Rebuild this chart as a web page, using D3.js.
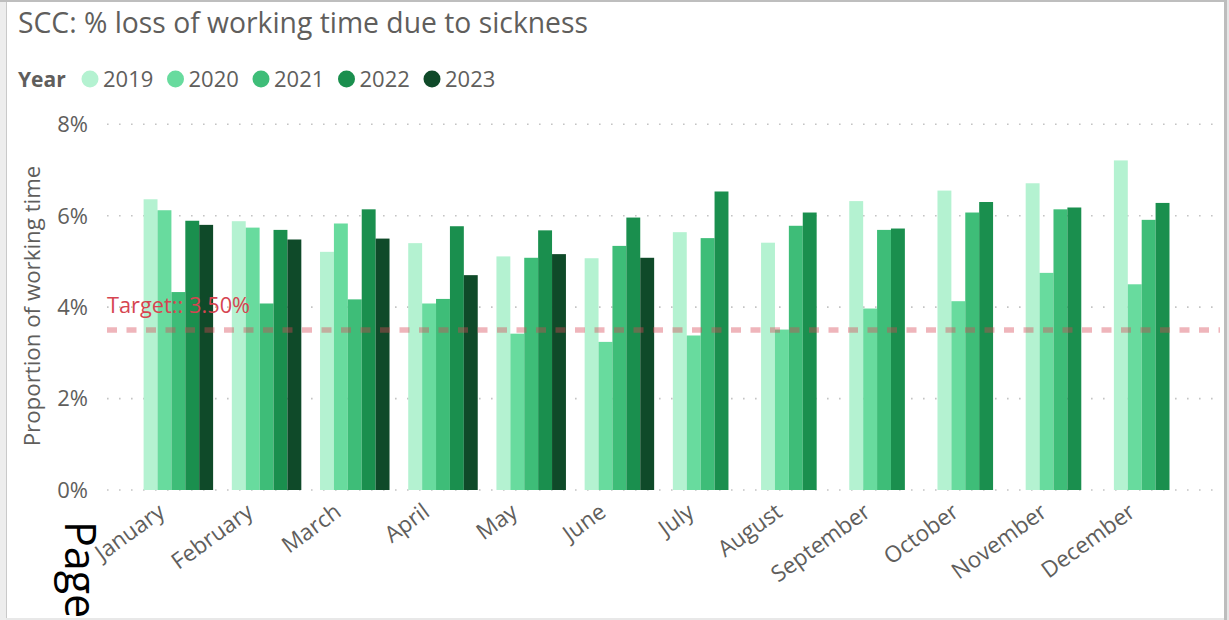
<!DOCTYPE html>
<html>
<head>
<meta charset="utf-8">
<script src="https://cdn.jsdelivr.net/npm/d3@7"></script>
<style>
  html, body { margin: 0; padding: 0; background: #fff; }
  svg { display: block; }
  text { font-family: "Open Sans", "Noto Sans", sans-serif; }
</style>
</head>
<body>
<svg id="chart" width="1229" height="620"></svg>
<script>
const months = ["January","February","March","April","May","June","July","August","September","October","November","December"];
const years = ["2019","2020","2021","2022","2023"];
const colors = ["#B4F2D1","#68DB9E","#3EBD78","#1A8F4E","#0F4A29"];
const v2019 = [6.36,5.88,5.21,5.40,5.11,5.07,5.64,5.41,6.32,6.55,6.71,7.21];
const v2020 = [6.12,5.74,5.83,4.08,3.42,3.24,3.38,3.51,3.97,4.13,4.75,4.50];
const v2021 = [4.33,4.08,4.17,4.18,5.08,5.34,5.51,5.78,5.69,6.07,6.14,5.91];
const v2022 = [5.89,5.69,6.14,5.77,5.68,5.96,6.53,6.07,5.72,6.30,6.18,6.28];
const v2023 = [5.80,5.48,5.50,4.70,5.16,5.08,null,null,null,null,null,null];
const yTicks = [0,2,4,6,8];
const target = 3.5;
const titleText = "SCC: % loss of working time due to sickness";
const yTitle = "Proportion of working time";
const targetLabel = "Target:: 3.50%";

const series = [v2019, v2020, v2021, v2022, v2023];
const svg = d3.select("#chart");
const gray = "#605E5C";

// frame
svg.append("rect").attr("x",0).attr("y",0).attr("width",6).attr("height",620).attr("fill","#EDEDED");
svg.append("rect").attr("x",6).attr("y",0).attr("width",1).attr("height",620).attr("fill","#C9C9C9");
svg.append("rect").attr("x",0).attr("y",0).attr("width",1229).attr("height",2).attr("fill","#BEBEBE");
svg.append("rect").attr("x",1224).attr("y",0).attr("width",3).attr("height",620).attr("fill","#BDBDBD");
svg.append("rect").attr("x",1227).attr("y",0).attr("width",2).attr("height",620).attr("fill","#E6E6E6");
svg.append("rect").attr("x",6).attr("y",618).attr("width",1218).attr("height",2).attr("fill","#E8E8E8");

// title
svg.append("text").attr("x",18).attr("y",33).attr("font-size",28.3).attr("fill",gray).text(titleText);

// legend
const leg = svg.append("g");
leg.append("text").attr("x",18).attr("y",87).attr("font-size",21).attr("font-weight","bold").attr("fill",gray).text("Year");
years.forEach((yr,i)=>{
  leg.append("circle").attr("cx",90+85.5*i).attr("cy",79).attr("r",8.5).attr("fill",colors[i]);
  leg.append("text").attr("x",103+85.5*i).attr("y",87).attr("font-size",22).attr("fill",gray).text(yr);
});

// scales
const x0 = d3.scaleBand().domain(months).range([107,1220]).paddingInner(0.212).paddingOuter(0.415);
const x1 = d3.scaleBand().domain(years).range([0,x0.bandwidth()]).padding(0);
const y = d3.scaleLinear().domain([0,8]).range([490,124.3]);

// gridlines
svg.append("g").selectAll("line").data(yTicks).join("line")
  .attr("x1",107).attr("x2",1220)
  .attr("y1",d=>y(d)).attr("y2",d=>y(d))
  .attr("stroke","#C4C4C4").attr("stroke-width",1.6).attr("stroke-dasharray","1.6,10.4");

// y tick labels
svg.append("g").selectAll("text").data(yTicks).join("text")
  .attr("x",88).attr("y",d=>y(d)).attr("dy","0.36em").attr("text-anchor","end")
  .attr("font-size",22).attr("fill",gray).text(d=>d+"%");

// y title
svg.append("text").attr("transform","translate(40,306) rotate(-90)").attr("text-anchor","middle")
  .attr("font-size",22.3).attr("fill",gray).text(yTitle);

// bars
const gBars = svg.append("g");
months.forEach((m,mi)=>{
  years.forEach((yr,yi)=>{
    const v = series[yi][mi];
    if (v == null) return;
    gBars.append("rect")
      .attr("x", x0(m)+x1(yr))
      .attr("y", y(v))
      .attr("width", x1.bandwidth())
      .attr("height", y(0)-y(v))
      .attr("fill", colors[yi]);
  });
});

// x labels
svg.append("g").selectAll("text").data(months).join("text")
  .attr("transform", d=>`translate(${x0(d)+x0.bandwidth()/2-12},515) rotate(-36)`)
  .attr("text-anchor","end").attr("font-size",22.5).attr("fill",gray).text(d=>d);

// target line
svg.append("line").attr("x1",107).attr("x2",1220).attr("y1",y(target)).attr("y2",y(target))
  .attr("stroke","#D64554").attr("stroke-opacity",0.4).attr("stroke-width",5.5).attr("stroke-dasharray","10,9.5");
svg.append("text").attr("x",107).attr("y",313).attr("font-size",21.8).attr("fill","#D64550").text(targetLabel);

// Page text
svg.append("text").attr("transform","translate(65,521) rotate(90)")
  .attr("font-family","'Liberation Sans', Arial, sans-serif").attr("font-size",43).attr("fill","#000").text("Page");
</script>
</body>
</html>
